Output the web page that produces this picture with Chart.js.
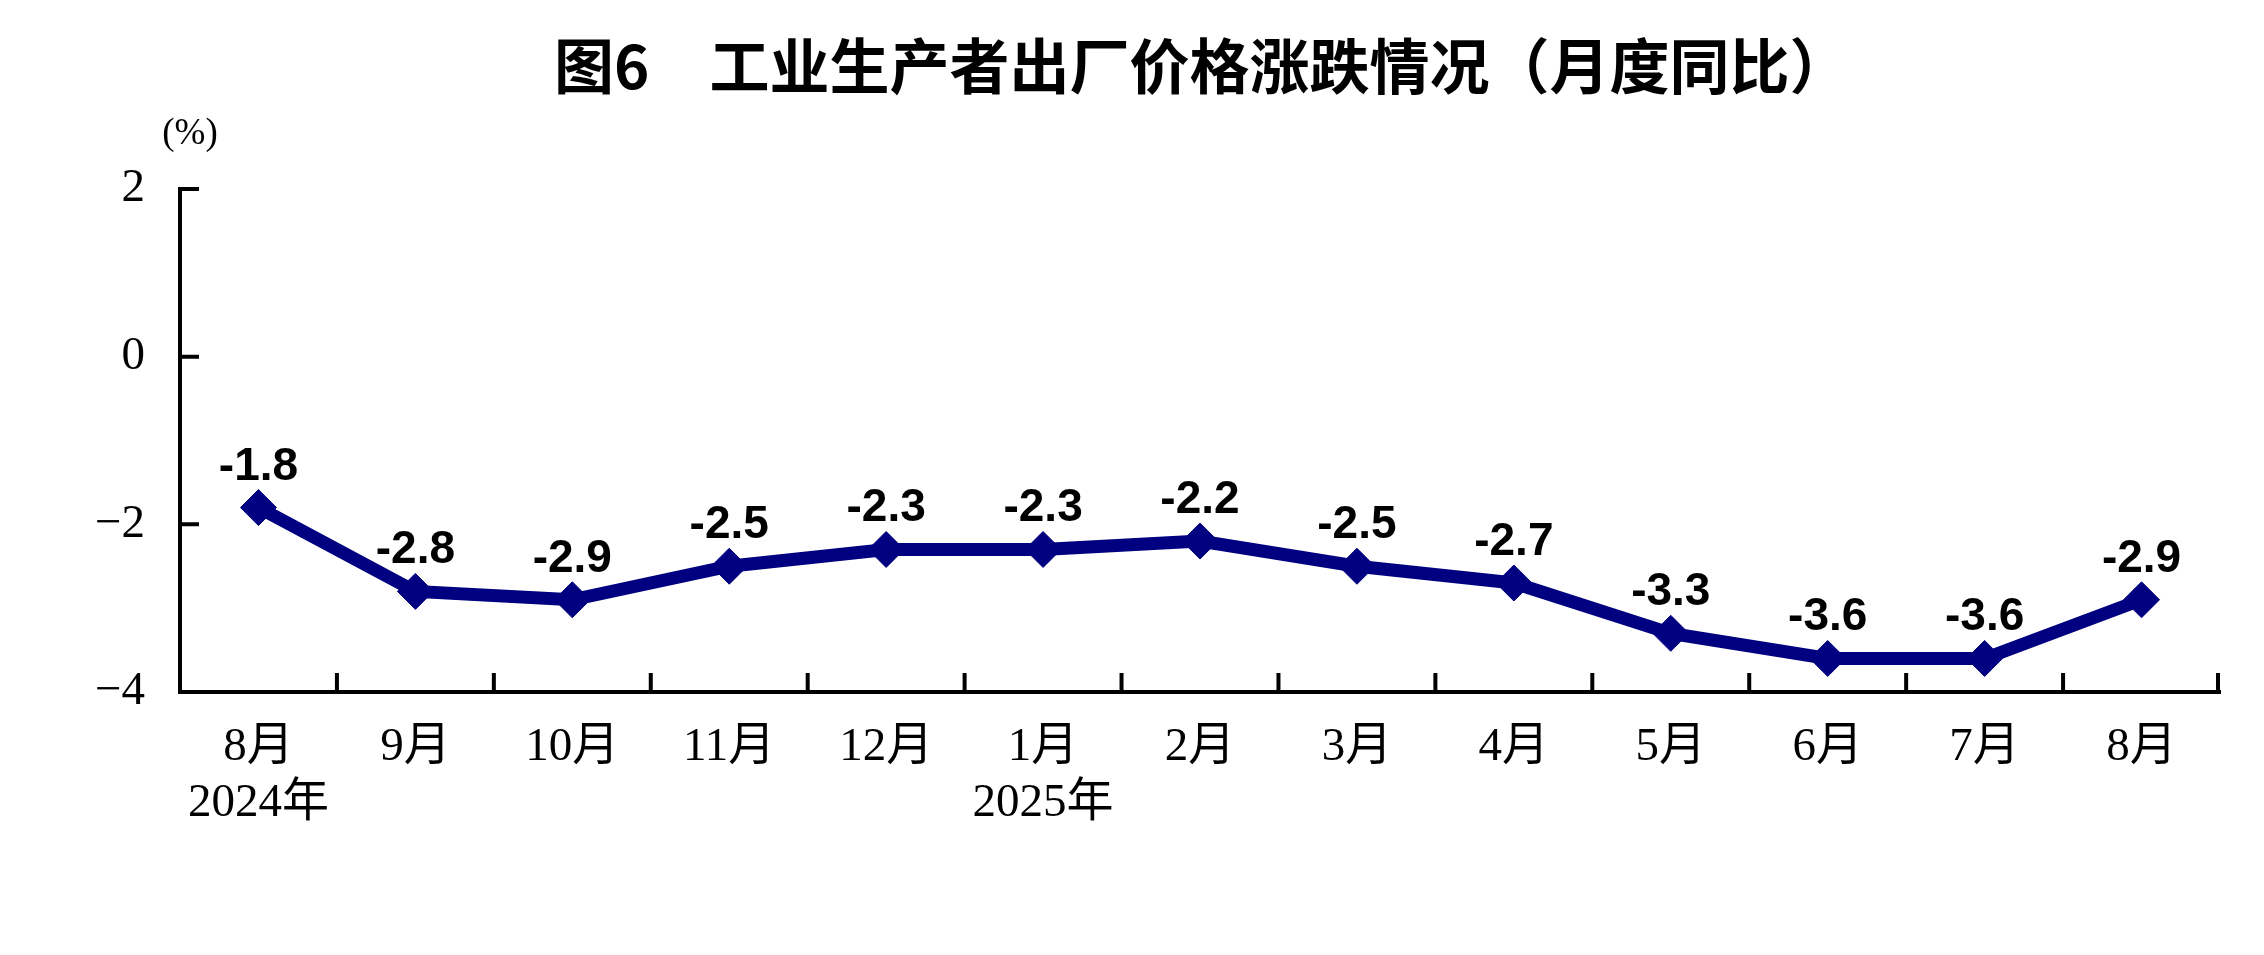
<!DOCTYPE html>
<html lang="zh-CN">
<head>
<meta charset="utf-8">
<title>图6 工业生产者出厂价格涨跌情况（月度同比）</title>
<script src="https://cdn.jsdelivr.net/npm/chart.js@4.4.1/dist/chart.umd.min.js"></script>
<style>
    html, body { margin: 0; padding: 0; background: #fff; }
    #ppiChart { display: block; }
</style>
</head>
<body>
<canvas id="ppiChart" width="2264" height="955"></canvas>
<script>
// Data
const months = [['8月', '2024年'], '9月', '10月', '11月', '12月', ['1月', '2025年'], '2月', '3月', '4月', '5月', '6月', '7月', '8月'];
const ppiYoY = [-1.8, -2.8, -2.9, -2.5, -2.3, -2.3, -2.2, -2.5, -2.7, -3.3, -3.6, -3.6, -2.9];
const yTickValues = [2, 0, -2, -4];

const chartTitle = '图6　工业生产者出厂价格涨跌情况（月度同比）';
const unitLabel = '(%)';
const lineColor = '#000080';

// Title, unit text, inward ticks and value labels
const decorations = {
    id: 'decorations',
    beforeDatasetsDraw(chart) {
        const { ctx, chartArea, scales } = chart;
        const x = scales.x, y = scales.y;
        ctx.save();
        ctx.strokeStyle = '#000';
        ctx.lineWidth = 4;
        ctx.beginPath();
        // x ticks on category boundaries, pointing up
        for (let i = 1; i < months.length; i++) {
            const px = (x.getPixelForValue(i - 1) + x.getPixelForValue(i)) / 2;
            ctx.moveTo(px, chartArea.bottom);
            ctx.lineTo(px, chartArea.bottom - 19);
        }
        ctx.moveTo(chartArea.right - 2, chartArea.bottom);
        ctx.lineTo(chartArea.right - 2, chartArea.bottom - 19);
        // y ticks pointing right
        yTickValues.forEach(v => {
            const py = y.getPixelForValue(v);
            ctx.moveTo(chartArea.left, py);
            ctx.lineTo(chartArea.left + 19, py);
        });
        ctx.stroke();
        ctx.restore();
    },
    afterDraw(chart) {
        const { ctx } = chart;
        ctx.save();
        ctx.fillStyle = '#000';
        ctx.textBaseline = 'middle';
        ctx.textAlign = 'left';
        ctx.font = 'bold 60px "Noto Sans CJK SC", sans-serif';
        ctx.fillText(chartTitle, 554, 66);

        ctx.textAlign = 'center';
        ctx.font = '37px "Liberation Serif", serif';
        ctx.fillText(unitLabel, 190, 134);

        // value labels above the points
        ctx.font = 'bold 46px "Liberation Sans", Arial, sans-serif';
        ctx.textBaseline = 'alphabetic';
        const meta = chart.getDatasetMeta(0);
        meta.data.forEach((pt, i) => {
            ctx.fillText(ppiYoY[i].toFixed(1), pt.x, pt.y - 28);
        });
        ctx.restore();
    }
};

new Chart(document.getElementById('ppiChart'), {
    type: 'line',
    data: {
        labels: months,
        datasets: [{
            data: ppiYoY,
            borderColor: lineColor,
            backgroundColor: lineColor,
            borderWidth: 13,
            tension: 0,
            pointStyle: 'rectRot',
            pointRadius: 18,
            pointBorderWidth: 1,
            pointBackgroundColor: lineColor,
            pointBorderColor: lineColor,
            clip: false
        }]
    },
    options: {
        responsive: false,
        devicePixelRatio: 1,
        animation: false,
        layout: { padding: { top: 189, right: 44, bottom: 0, left: 0 } },
        plugins: {
            legend: { display: false },
            title: { display: false },
            tooltip: { enabled: false }
        },
        scales: {
            x: {
                type: 'category',
                offset: true,
                grid: { display: false, drawTicks: false },
                border: { display: true, color: '#000', width: 4 },
                ticks: {
                    color: '#000',
                    padding: 28,
                    maxRotation: 0,
                    autoSkip: false,
                    font: { family: '"Liberation Serif", "Noto Sans CJK SC", serif', size: 47, lineHeight: 1.19 }
                },
                afterFit(scale) { scale.height = 955 - 692; }
            },
            y: {
                min: -4,
                max: 2,
                grid: { display: false, drawTicks: false },
                border: { display: true, color: '#000', width: 4 },
                ticks: {
                    stepSize: 2,
                    color: '#000',
                    padding: 35,
                    font: { family: '"Liberation Serif", serif', size: 47 },
                    callback: v => String(v).replace('-', '−')
                },
                afterFit(scale) { scale.width = 180; }
            }
        }
    },
    plugins: [decorations]
});
</script>
</body>
</html>
